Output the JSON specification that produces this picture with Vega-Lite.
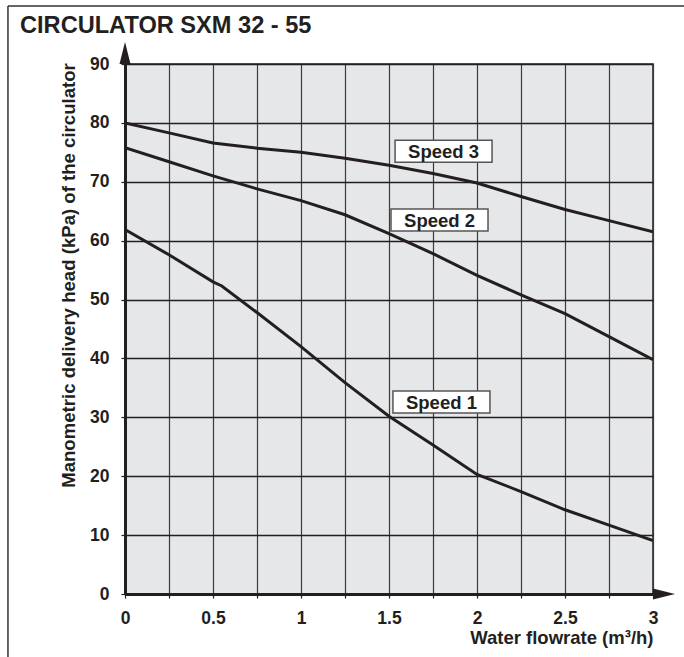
{
  "$schema": "https://vega.github.io/schema/vega-lite/v6.json",
  "width": 528,
  "height": 530,
  "autosize": {"type": "none"},
  "padding": {"left": 125, "top": 64, "right": 31, "bottom": 63},
  "background": "white",
  "title": {"text": "CIRCULATOR SXM 32 - 55", "anchor": "start", "frame": "group", "dx": -105, "offset": -51, "baseline": "alphabetic", "font": "Liberation Sans", "fontSize": 23.6, "fontWeight": "bold", "color": "#231f20"},
  "config": {"view": {"fill": "#e6e7e8", "stroke": "#231f20", "strokeWidth": 1.5}, "font": "Liberation Sans"},
  "datasets": {
    "curves": [
      {"speed": "Speed 3", "flow": 0, "head": 80}, {"speed": "Speed 3", "flow": 0.25, "head": 78.3}, {"speed": "Speed 3", "flow": 0.5, "head": 76.6}, {"speed": "Speed 3", "flow": 0.75, "head": 75.7}, {"speed": "Speed 3", "flow": 1, "head": 75}, {"speed": "Speed 3", "flow": 1.25, "head": 74}, {"speed": "Speed 3", "flow": 1.5, "head": 72.8}, {"speed": "Speed 3", "flow": 1.75, "head": 71.4}, {"speed": "Speed 3", "flow": 2, "head": 69.8}, {"speed": "Speed 3", "flow": 2.25, "head": 67.5}, {"speed": "Speed 3", "flow": 2.5, "head": 65.3}, {"speed": "Speed 3", "flow": 2.75, "head": 63.4}, {"speed": "Speed 3", "flow": 3, "head": 61.5},
      {"speed": "Speed 2", "flow": 0, "head": 75.8}, {"speed": "Speed 2", "flow": 0.25, "head": 73.4}, {"speed": "Speed 2", "flow": 0.5, "head": 71}, {"speed": "Speed 2", "flow": 0.75, "head": 68.8}, {"speed": "Speed 2", "flow": 1, "head": 66.8}, {"speed": "Speed 2", "flow": 1.25, "head": 64.4}, {"speed": "Speed 2", "flow": 1.5, "head": 61.2}, {"speed": "Speed 2", "flow": 1.75, "head": 57.8}, {"speed": "Speed 2", "flow": 2, "head": 54.1}, {"speed": "Speed 2", "flow": 2.25, "head": 50.8}, {"speed": "Speed 2", "flow": 2.5, "head": 47.6}, {"speed": "Speed 2", "flow": 2.75, "head": 43.7}, {"speed": "Speed 2", "flow": 3, "head": 39.8},
      {"speed": "Speed 1", "flow": 0, "head": 61.9}, {"speed": "Speed 1", "flow": 0.25, "head": 57.6}, {"speed": "Speed 1", "flow": 0.5, "head": 53}, {"speed": "Speed 1", "flow": 0.55, "head": 52.3}, {"speed": "Speed 1", "flow": 0.75, "head": 47.8}, {"speed": "Speed 1", "flow": 1, "head": 42}, {"speed": "Speed 1", "flow": 1.25, "head": 35.9}, {"speed": "Speed 1", "flow": 1.5, "head": 30.2}, {"speed": "Speed 1", "flow": 1.75, "head": 25.3}, {"speed": "Speed 1", "flow": 2, "head": 20.3}, {"speed": "Speed 1", "flow": 2.25, "head": 17.4}, {"speed": "Speed 1", "flow": 2.5, "head": 14.3}, {"speed": "Speed 1", "flow": 2.75, "head": 11.7}, {"speed": "Speed 1", "flow": 3, "head": 9.05}
    ],
    "labels": [
      {"speed": "Speed 3", "flow": 1.81, "head": 75.2},
      {"speed": "Speed 2", "flow": 1.787, "head": 63.5},
      {"speed": "Speed 1", "flow": 1.798, "head": 32.6}
    ]
  },
  "layer": [
    {
      "data": {"name": "curves"},
      "mark": {"type": "line", "color": "#231f20", "strokeWidth": 3, "clip": true},
      "encoding": {
        "x": {"field": "flow", "type": "quantitative", "scale": {"domain": [0, 3], "nice": false, "zero": false},
          "axis": {"title": "Water flowrate (m³/h)", "values": [0, 0.25, 0.5, 0.75, 1, 1.25, 1.5, 1.75, 2, 2.25, 2.5, 2.75, 3],
            "labelExpr": "datum.value % 0.5 == 0 ? format(datum.value, '~g') : ''",
            "grid": true, "gridColor": "#3a3a3a", "gridWidth": 1.2, "gridOpacity": 1,
            "domainColor": "#231f20", "domainWidth": 3, "tickColor": "#231f20", "tickSize": 4, "tickWidth": 1.2,
            "labelFont": "Liberation Sans", "labelFontSize": 17.5, "labelFontWeight": "bold", "labelColor": "#231f20", "labelPadding": 11, "labelFlush": false, "labelOverlap": false,
            "titleFont": "Liberation Sans", "titleFontSize": 18.5, "titleFontWeight": "bold", "titleColor": "#231f20", "titleAnchor": "end", "titleAlign": "right", "titleBaseline": "alphabetic", "titleX": 528, "titleY": 49}},
        "y": {"field": "head", "type": "quantitative", "scale": {"domain": [0, 90], "nice": false},
          "axis": {"title": "Manometric delivery head (kPa) of the circulator", "values": [0, 5, 10, 15, 20, 25, 30, 35, 40, 45, 50, 55, 60, 65, 70, 75, 80, 85, 90],
            "labelExpr": "datum.value % 10 == 0 ? datum.label : ''",
            "grid": true, "gridColor": {"condition": {"test": "datum.value % 10 == 0", "value": "#231f20"}, "value": "#6d6e70"}, "gridWidth": 1.3, "gridOpacity": 1,
            "domainColor": "#231f20", "domainWidth": 3, "tickColor": "#231f20", "tickSize": 4, "tickWidth": 1.2,
            "tickOpacity": {"condition": {"test": "datum.value % 10 == 0", "value": 1}, "value": 0},
            "labelFont": "Liberation Sans", "labelFontSize": 17.5, "labelFontWeight": "bold", "labelColor": "#231f20", "labelPadding": 12, "labelFlush": false, "labelOverlap": false,
            "titleFont": "Liberation Sans", "titleFontSize": 18.6, "titleFontWeight": "bold", "titleColor": "#231f20", "titleAngle": -90, "titleAlign": "center", "titleBaseline": "middle", "titleX": -57, "titleY": 211}},
        "detail": {"field": "speed", "type": "nominal"}
      }
    },
    {
      "data": {"values": [{}]},
      "mark": {"type": "rule", "color": "#333333", "strokeWidth": 1.5},
      "encoding": {
        "x": {"datum": -0.665, "type": "quantitative", "scale": {"domain": [0, 3], "nice": false, "zero": false}},
        "y": {"datum": 99.85, "type": "quantitative", "scale": {"domain": [0, 90], "nice": false}},
        "y2": {"datum": -12}
      }
    },
    {
      "data": {"values": [{}]},
      "mark": {"type": "rule", "color": "#333333", "strokeWidth": 1.5},
      "encoding": {
        "x": {"datum": -0.665, "type": "quantitative", "scale": {"domain": [0, 3], "nice": false, "zero": false}},
        "x2": {"datum": 3.25},
        "y": {"datum": 99.85, "type": "quantitative", "scale": {"domain": [0, 90], "nice": false}}
      }
    },
    {
      "data": {"values": [{}]},
      "mark": {"type": "point", "shape": "M-0.5,1L0,-1L0.5,1Z", "size": 484, "filled": true, "color": "#231f20", "opacity": 1},
      "encoding": {
        "x": {"datum": 0, "type": "quantitative", "scale": {"domain": [0, 3], "nice": false, "zero": false}},
        "y": {"datum": 91.87, "type": "quantitative", "scale": {"domain": [0, 90], "nice": false}}
      }
    },
    {
      "data": {"values": [{}]},
      "mark": {"type": "point", "shape": "M-1,-0.5L1,0L-1,0.5Z", "size": 484, "filled": true, "color": "#231f20", "opacity": 1},
      "encoding": {
        "x": {"datum": 3.0625, "type": "quantitative", "scale": {"domain": [0, 3], "nice": false, "zero": false}},
        "y": {"datum": 0, "type": "quantitative", "scale": {"domain": [0, 90], "nice": false}}
      }
    },
    {
      "data": {"name": "labels"},
      "mark": {"type": "point", "shape": "M-1,-0.227L1,-0.227L1,0.227L-1,0.227Z", "size": 9409, "filled": true, "fill": "white", "stroke": "#555555", "strokeWidth": 1.5, "opacity": 1},
      "encoding": {
        "x": {"field": "flow", "type": "quantitative", "scale": {"domain": [0, 3], "nice": false, "zero": false}},
        "y": {"field": "head", "type": "quantitative", "scale": {"domain": [0, 90], "nice": false}}
      }
    },
    {
      "data": {"name": "labels"},
      "mark": {"type": "text", "font": "Liberation Sans", "fontSize": 18.5, "fontWeight": "bold", "color": "#231f20", "align": "center", "baseline": "middle", "dy": 1},
      "encoding": {
        "x": {"field": "flow", "type": "quantitative", "scale": {"domain": [0, 3], "nice": false, "zero": false}},
        "y": {"field": "head", "type": "quantitative", "scale": {"domain": [0, 90], "nice": false}},
        "text": {"field": "speed", "type": "nominal"}
      }
    }
  ]
}
